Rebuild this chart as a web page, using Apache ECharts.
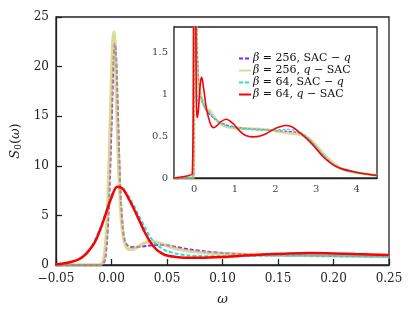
<!DOCTYPE html>
<html><head><meta charset="utf-8">
<script src="https://cdn.jsdelivr.net/npm/echarts@6/dist/echarts.min.js"></script>
<style>html,body{margin:0;padding:0;background:#fff}#c{width:416px;height:318px}</style>
</head><body><div id="c"></div>
<script>
// ---- data (omega, S0) ----
const seriesNames = ['b256s', 'b256q', 'b64s', 'b64q'];
const legendLabels = [
  '{g|β} = 256, SAC − {g|q}',
  '{g|β} = 256, {g|q} − SAC',
  '{g|β} = 64, SAC − {g|q}',
  '{g|β} = 64, {g|q} − SAC'
];
const mainPurple = [[-0.05,0],[-0.011,0],[-0.008,0.1],[-0.006,0.5],[-0.004,2.5],[-0.002,7],[0,14],[0.002,21],[0.003,22.3],[0.004,21.5],[0.006,14.5],[0.008,7.5],[0.010,4.0],[0.012,2.4],[0.015,1.9],[0.018,1.8],[0.022,1.8],[0.027,1.85],[0.032,1.92],[0.038,2.0],[0.044,2.05],[0.05,1.98],[0.06,1.78],[0.07,1.58],[0.085,1.36],[0.1,1.2],[0.115,1.1],[0.14,1.0],[0.17,0.95],[0.2,0.9],[0.25,0.85]];
const mainYellow = [[-0.05,0],[-0.012,0],[-0.009,0.1],[-0.007,0.5],[-0.005,2.5],[-0.003,7],[-0.001,14.5],[0.001,22],[0.002,23.5],[0.003,22.5],[0.005,15],[0.007,8.5],[0.009,4.5],[0.011,2.7],[0.013,1.9],[0.016,1.6],[0.019,1.6],[0.023,1.8],[0.028,2.1],[0.033,2.35],[0.038,2.35],[0.043,2.2],[0.05,1.95],[0.06,1.6],[0.07,1.4],[0.085,1.24],[0.1,1.15],[0.12,1.08],[0.15,1.0],[0.18,0.95],[0.21,0.9],[0.25,0.85]];
const mainCyan = [[-0.05,0.02],[-0.04,0.2],[-0.03,0.55],[-0.02,1.5],[-0.01,3.8],[0,7.0],[0.005,7.8],[0.01,7.65],[0.015,7.0],[0.02,6.0],[0.025,4.9],[0.03,3.8],[0.035,2.8],[0.04,2.1],[0.045,1.7],[0.05,1.4],[0.06,1.1],[0.07,0.95],[0.08,0.9],[0.1,0.88],[0.12,0.9],[0.15,0.95],[0.18,0.95],[0.21,0.92],[0.25,0.85]];
const mainRed = [[-0.05,0.05],[-0.045,0.12],[-0.04,0.22],[-0.035,0.36],[-0.03,0.55],[-0.025,0.9],[-0.02,1.5],[-0.015,2.3],[-0.01,3.6],[-0.005,5.2],[0,6.8],[0.005,7.9],[0.01,7.7],[0.015,6.8],[0.02,5.7],[0.025,4.5],[0.03,3.3],[0.035,2.3],[0.04,1.6],[0.045,1.2],[0.05,0.95],[0.06,0.78],[0.07,0.72],[0.08,0.72],[0.1,0.8],[0.12,0.95],[0.14,1.08],[0.16,1.17],[0.18,1.2],[0.2,1.17],[0.22,1.1],[0.25,1.0]];
const tailPurple = [[0.3,0.8],[0.4,0.75],[0.5,0.71],[0.65,0.66],[0.8,0.63],[1.0,0.61],[1.3,0.59],[1.6,0.58],[1.9,0.57],[2.1,0.56],[2.3,0.555],[2.5,0.545],[2.7,0.51],[2.85,0.45],[3.0,0.37],[3.2,0.26],[3.4,0.17],[3.6,0.11],[3.8,0.08],[4.0,0.06],[4.25,0.045],[4.5,0.03]];
const tailYellow = [[0.3,0.81],[0.37,0.81],[0.44,0.76],[0.55,0.69],[0.7,0.63],[0.9,0.6],[1.2,0.59],[1.5,0.585],[1.8,0.575],[2.1,0.55],[2.4,0.53],[2.6,0.52],[2.8,0.48],[3.0,0.39],[3.2,0.28],[3.4,0.19],[3.6,0.12],[3.8,0.085],[4.0,0.065],[4.25,0.045],[4.5,0.03]];
const tailCyan = [[0.3,0.82],[0.4,0.76],[0.5,0.7],[0.65,0.65],[0.8,0.62],[1.0,0.6],[1.3,0.58],[1.6,0.57],[1.9,0.57],[2.1,0.575],[2.3,0.58],[2.5,0.565],[2.7,0.52],[2.85,0.45],[3.0,0.37],[3.2,0.26],[3.4,0.17],[3.6,0.11],[3.8,0.08],[4.0,0.06],[4.25,0.045],[4.5,0.03]];
const tailRed = [[0.29,0.85],[0.35,0.72],[0.41,0.63],[0.47,0.6],[0.55,0.62],[0.65,0.67],[0.79,0.7],[0.95,0.65],[1.1,0.57],[1.25,0.51],[1.45,0.49],[1.62,0.5],[1.78,0.53],[1.95,0.58],[2.11,0.61],[2.25,0.625],[2.4,0.61],[2.55,0.56],[2.7,0.5],[2.85,0.43],[3.0,0.35],[3.18,0.25],[3.35,0.18],[3.52,0.13],[3.7,0.1],[3.93,0.075],[4.2,0.05],[4.5,0.03]];
const insetXTicks = [0, 1, 2, 3, 4];
const insetLeft = [[-0.5, 0]];

const FONT = 'DejaVu Serif';
const colors = ['#8a1fff', '#c8c860', '#22e0e0', '#ff0000'];

const chart = echarts.init(document.getElementById('c'), null, {renderer: 'canvas'});
const axisCol = '#222';
function mainSeries(i, data, style) {
  return Object.assign({
    name: seriesNames[i], type: 'line', data: data, xAxisIndex: 0, yAxisIndex: 0,
    symbol: 'none', smooth: 0.3, animation: false, color: colors[i]
  }, style);
}
function insetSeries(i, data, style) {
  return Object.assign({
    name: seriesNames[i], type: 'line', data: data, xAxisIndex: 1, yAxisIndex: 1,
    symbol: 'none', smooth: 0.3, animation: false, color: colors[i], clip: true
  }, style);
}
const richLeg = {
  g: {fontFamily: FONT, fontStyle: 'italic', fontSize: 11, color: '#111'},
  n: {fontFamily: FONT, fontSize: 11, color: '#111'}
};
chart.setOption({
  animation: false,
  backgroundColor: '#fff',
  grid: [
    {left: 56, top: 17, right: 27, bottom: 53, show: true, borderColor: axisCol, borderWidth: 1.3, backgroundColor: 'transparent'},
    {left: 174, top: 27, right: 39, bottom: 140, show: true, borderColor: axisCol, borderWidth: 1.3, backgroundColor: '#fff', z: 3}
  ],
  legend: {
    orient: 'vertical', left: 233, top: 48, itemWidth: 12, itemHeight: 8, itemGap: 1,
    data: seriesNames,
    itemStyle: {opacity: 0},
    formatter: function (name) { return legendLabels[seriesNames.indexOf(name)]; },
    textStyle: {fontFamily: FONT, fontSize: 11, color: '#111', rich: richLeg, padding: [0, 0, 0, -3]},
    z: 10
  },
  xAxis: [
    {type: 'value', gridIndex: 0, min: -0.05, max: 0.25, interval: 0.05,
     name: 'ω', nameLocation: 'middle', nameGap: 28,
     nameTextStyle: {fontFamily: FONT, fontStyle: 'italic', fontSize: 13, color: '#222'},
     axisLine: {show: true, onZero: false, lineStyle: {color: axisCol, width: 1.3}},
     axisTick: {show: true, inside: true, length: 6, lineStyle: {color: axisCol, width: 1.3}},
     axisLabel: {fontFamily: FONT, fontSize: 12, color: '#222', margin: 8,
       formatter: function (v) { return v.toFixed(2).replace('-', '−'); }},
     splitLine: {show: false}},
    {type: 'value', gridIndex: 1, min: -0.5, max: 4.5,
     axisLine: {show: true, onZero: false, lineStyle: {color: axisCol, width: 1.3}},
     axisTick: {show: true, inside: true, length: 5, customValues: insetXTicks, lineStyle: {color: axisCol, width: 1.2}},
     axisLabel: {fontFamily: FONT, fontSize: 10, color: '#444', margin: 6, customValues: insetXTicks},
     splitLine: {show: false}}
  ],
  yAxis: [
    {type: 'value', gridIndex: 0, min: 0, max: 25, interval: 5,
     name: '{i|S}{s|0}{n|(}{i|ω}{n|)}', nameLocation: 'middle', nameGap: 30, nameRotate: 90,
     nameTextStyle: {fontFamily: FONT, fontSize: 13, color: '#222', rich: {
       i: {fontFamily: FONT, fontStyle: 'italic', fontSize: 13, color: '#222'},
       s: {fontFamily: FONT, fontSize: 9, color: '#222', verticalAlign: 'bottom', padding: [6, 0, 0, 0]},
       n: {fontFamily: FONT, fontSize: 13, color: '#222'}}},
     axisLine: {show: true, onZero: false, lineStyle: {color: axisCol, width: 1.3}},
     axisTick: {show: true, inside: true, length: 6, lineStyle: {color: axisCol, width: 1.3}},
     axisLabel: {fontFamily: FONT, fontSize: 12, color: '#222', margin: 7},
     splitLine: {show: false}},
    {type: 'value', gridIndex: 1, min: 0, max: 1.8, interval: 0.5,
     axisLine: {show: true, onZero: false, lineStyle: {color: axisCol, width: 1.3}},
     axisTick: {show: true, inside: true, length: 5, lineStyle: {color: axisCol, width: 1.2}},
     axisLabel: {fontFamily: FONT, fontSize: 10, color: '#444', margin: 6, showMaxLabel: false},
     splitLine: {show: false}}
  ],
  series: [
    mainSeries(0, mainPurple, {lineStyle: {width: 2, type: [4, 2], color: colors[0]}, z: 2}),
    mainSeries(1, mainYellow, {lineStyle: {width: 3.5, color: colors[1], opacity: 0.65}, z: 3}),
    mainSeries(2, mainCyan, {lineStyle: {width: 2, type: [4, 2], color: colors[2]}, z: 4}),
    mainSeries(3, mainRed, {lineStyle: {width: 2.5, color: colors[3]}, z: 5}),
    insetSeries(0, insetLeft.concat(mainPurple, tailPurple), {lineStyle: {width: 1.3, type: [3, 1.5], color: colors[0]}, z: 6}),
    insetSeries(1, insetLeft.concat(mainYellow, tailYellow), {lineStyle: {width: 2.8, color: colors[1], opacity: 0.65}, z: 7}),
    insetSeries(2, insetLeft.concat(mainCyan, tailCyan), {lineStyle: {width: 1.3, type: [3, 1.5], color: colors[2]}, z: 8}),
    insetSeries(3, insetLeft.concat(mainRed, tailRed), {lineStyle: {width: 1.6, color: colors[3]}, z: 9})
  ]
});
</script></body></html>
